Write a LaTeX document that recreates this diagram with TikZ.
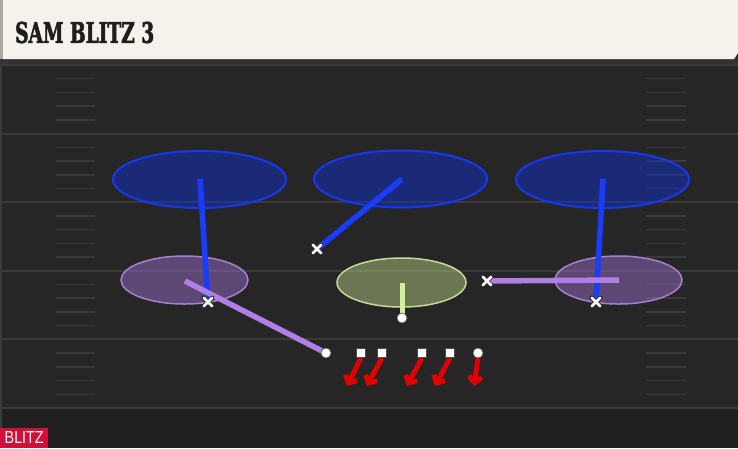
\documentclass[tikz,border=0pt]{standalone}
\usepackage{fontspec}
\usepackage{graphicx}
\usetikzlibrary{shapes.geometric,shapes.misc,arrows.meta}
\newfontfamily\titlefont{DejaVu Serif}[BoldFeatures={FakeBold=2.5}]
\newfontfamily\labelfont{Liberation Sans}
\definecolor{field}{HTML}{262626}
\definecolor{fieldlow}{HTML}{202020}
\definecolor{yard}{HTML}{3A3A3A}
\definecolor{hashc}{HTML}{3A3A3A}
\definecolor{cream}{HTML}{F4F2EA}
\definecolor{zoneblue}{HTML}{1030D0}
\definecolor{zoneedge}{HTML}{1838EE}
\definecolor{routeblue}{HTML}{1A3CFF}
\definecolor{lav}{HTML}{A070D0}
\definecolor{lavedge}{HTML}{A880D0}
\definecolor{lavroute}{HTML}{B07FE6}
\definecolor{lime}{HTML}{C8E090}
\definecolor{limeedge}{HTML}{C8D898}
\definecolor{limeroute}{HTML}{D6EEA0}
\definecolor{blitzred}{HTML}{E00000}
\definecolor{tagred}{HTML}{D0103A}
\definecolor{titleink}{HTML}{1E1E1E}
\begin{document}
\begin{tikzpicture}[x=1pt,y=-1pt,
  zone/.style={ellipse, draw=zoneedge, line width=2pt, fill=zoneblue, fill opacity=0.48, draw opacity=1, minimum width=173pt, minimum height=57pt, inner sep=0pt},
  lavzone/.style={ellipse, draw=lavedge, line width=1.5pt, fill=lav, fill opacity=0.46, minimum width=127pt, minimum height=48pt, inner sep=0pt},
  limezone/.style={ellipse, draw=limeedge, line width=1.5pt, fill=lime, fill opacity=0.43, minimum width=129pt, minimum height=49pt, inner sep=0pt},
  broute/.style={draw=routeblue, line width=5.5pt},
  lroute/.style={draw=lavroute, line width=5.5pt},
  groute/.style={draw=limeroute, line width=5pt},
  xmk/.style={cross out, draw=white, line width=2.6pt, line cap=round, minimum size=6pt, inner sep=0pt, preaction={draw=black!85, line width=4pt}},
  dotmk/.style={circle, fill=white, draw=black!70, line width=0.6pt, minimum size=10pt, inner sep=0pt},
  sqmk/.style={rectangle, fill=white, draw=black!70, line width=0.6pt, minimum size=9.5pt, inner sep=0pt},
  blitzarrow/.style={draw=blitzred, line width=5pt, -{Straight Barb[length=6pt,width=13pt]}},
  yardline/.style={draw=yard, line width=2pt},
  hashline/.style={draw=hashc, line width=1.5pt}
]
\useasboundingbox (0,0) rectangle (738,448);
% field
\fill[field] (0,0) rectangle (738,448);
\fill[fieldlow] (0,409) rectangle (738,448);
\fill[black!80] (0,58) rectangle (738,64);
\draw[yard, line width=1.5pt] (1,64) -- (1,448);
% yard lines and hashes
\foreach \k in {0,...,5} {
  \draw[yardline] (0,65+68.6*\k) -- (738,65+68.6*\k);
}
\foreach \k in {0,...,4} {
  \foreach \j in {1,...,4} {
    \draw[hashline] (56,65+68.6*\k+13.72*\j) -- (95,65+68.6*\k+13.72*\j);
    \draw[hashline] (646,65+68.6*\k+13.72*\j) -- (686,65+68.6*\k+13.72*\j);
  }
}
% header
\fill[cream] (3,0) -- (738,0) -- (738,53) -- (734,59) -- (3,59) -- cycle;
\fill[black!35] (0,0) rectangle (3,59);
\node[anchor=west, inner sep=0pt, text=titleink] (title) at (15,32.5) {\resizebox{139pt}{21pt}{\titlefont\bfseries SAM BLITZ 3}};
% zones
\node[zone] (zL) at (199.5,179.5) {};
\node[zone] (zM) at (400.5,179) {};
\node[zone] (zR) at (602.5,179.5) {};
\node[lavzone] (pL) at (184.5,280) {};
\node[lavzone] (pR) at (618.5,280) {};
\node[limezone] (gM) at (401.5,282.5) {};
% markers
\node[xmk] (xL) at (208,302) {};
\node[xmk] (xM) at (317,249) {};
\node[xmk] (xR) at (596,302) {};
\node[xmk] (xP) at (487,281) {};
\node[dotmk] (dP) at (326,353) {};
\node[dotmk] (dG) at (402,318) {};
\node[sqmk] (s1) at (361,353) {};
\node[sqmk] (s2) at (382,353) {};
\node[sqmk] (s3) at (422,353) {};
\node[sqmk] (s4) at (450,353) {};
\node[dotmk] (s5) at (478,353) {};
% route points
\coordinate (bL0) at (200,179);
\coordinate (bM0) at (402,179);
\coordinate (bR0) at (603,179);
\coordinate (pL0) at (185,281);
\coordinate (pR0) at (619,280);
\coordinate (gM0) at (402,283);
\coordinate (t1) at (347,386);
\coordinate (t2) at (367,386);
\coordinate (t3) at (407,386);
\coordinate (t4) at (435,386);
\coordinate (t5) at (474,386);
% routes
\draw[broute] (bL0) -- (xL.center);
\draw[broute] (bM0) -- (xM.center);
\draw[broute] (bR0) -- (xR.center);
\draw[lroute] (pL0) -- (dP.center);
\draw[lroute] (xP.center) -- (pR0);
\draw[groute] (gM0) -- (dG.center);
\draw[blitzarrow] (s1.south) -- (t1);
\draw[blitzarrow] (s2.south) -- (t2);
\draw[blitzarrow] (s3.south) -- (t3);
\draw[blitzarrow] (s4.south) -- (t4);
\draw[blitzarrow] (s5.south) -- (t5);
% redraw markers on top
\node[xmk] at (xL) {};
\node[xmk] at (xM) {};
\node[xmk] at (xR) {};
\node[xmk] at (xP) {};
\node[dotmk] at (dP) {};
\node[dotmk] at (dG) {};
\node[sqmk] at (s1) {};
\node[sqmk] at (s2) {};
\node[sqmk] at (s3) {};
\node[sqmk] at (s4) {};
\node[dotmk] at (s5) {};
% tag
\node[fill=tagred, anchor=south west, minimum width=48pt, minimum height=20pt, inner sep=0pt, text=white] (tag) at (0,448) {\resizebox{39pt}{12pt}{\labelfont BLITZ}};
\end{tikzpicture}
\end{document}
